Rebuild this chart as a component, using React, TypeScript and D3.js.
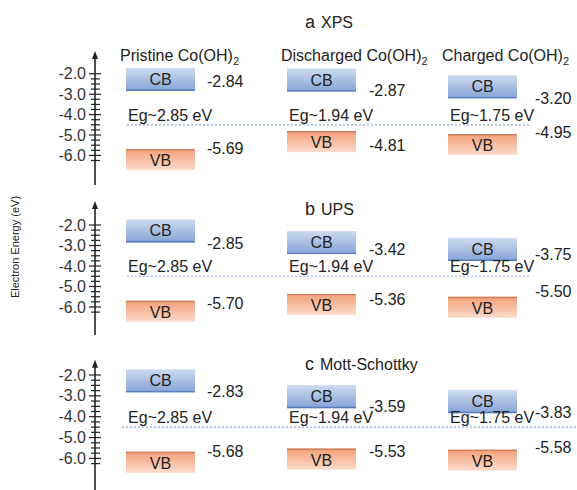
import React from 'react';
import * as d3 from 'd3';

// band edges (eV) for pristine / discharged / charged Co(OH)2
const samples = ['Pristine', 'Discharged', 'Charged'];
const methods = ['XPS', 'UPS', 'Mott-Schottky'];
const panelLetters = ['a', 'b', 'c'];
const cbXPS = [-2.84, -2.87, -3.2];
const vbXPS = [-5.69, -4.81, -4.95];
const cbUPS = [-2.85, -3.42, -3.75];
const vbUPS = [-5.7, -5.36, -5.5];
const cbMS = [-2.83, -3.59, -3.83];
const vbMS = [-5.68, -5.53, -5.58];
const bandGaps = [2.85, 1.94, 1.75];
const tickValues = [-2.0, -3.0, -4.0, -5.0, -6.0];
const refLevel = -4.5;

const panels = [
  { cb: cbXPS, vb: vbXPS },
  { cb: cbUPS, vb: vbUPS },
  { cb: cbMS, vb: vbMS },
];

// layout per panel (pixel range of -2..-6 eV, axis extent, dotted line extent)
const panelRange = [[73.8, 155.4], [225, 307], [375, 458.4]];
const axisTop = [-0.98, -0.93, -1.37];
const axisBottom = [-7.45, -7.37, -7.6];
const refX = [[127, 530], [127, 530], [122, 577]];
const titleY = [28, 215, 370];
// hand nudges for the value labels, as in the figure
const cbNudge = [[-9, -1.5, 0.7], [1, -5, -6], [-1, -2, -1]];
const vbNudge = [[-1, 14, -1], [2.6, 6, -5], [0, 3, -2]];
const labelDx = [12, 13, 18];

const FONT = '"Liberation Sans", Arial, sans-serif';
const AXIS_X = 95;
const BOX_W = 69;
const CB_H = 23;
const VB_H = 21;

const App = () => {
  const width = 577;
  const height = 490;

  const xCol = d3.scalePoint<string>().domain(samples).range([126, 448]);
  const minorTicks = d3.range(-2, -6.26, -0.25);

  return (
    <svg
      width={width}
      height={height}
      style={{ position: 'absolute', left: 0, top: 0, background: '#fff' }}
      fontFamily={FONT}
    >
      <defs>
        <linearGradient id="cbGrad" x1="0" y1="0" x2="0" y2="1">
          <stop offset="0%" stopColor="#cddbf0" />
          <stop offset="100%" stopColor="#84a3d6" />
        </linearGradient>
        <linearGradient id="vbGrad" x1="0" y1="0" x2="0" y2="1">
          <stop offset="0%" stopColor="#f29f78" />
          <stop offset="100%" stopColor="#fcdccb" />
        </linearGradient>
      </defs>

      <text
        transform="translate(16,247) rotate(-90)"
        textAnchor="middle"
        dominantBaseline="middle"
        fontSize={11}
        fill="#222"
      >
        Electron Energy (eV)
      </text>

      {panels.map((p, pi) => {
        const y = d3.scaleLinear().domain([-2, -6]).range(panelRange[pi]);
        const yTop = y(axisTop[pi]);
        const yBot = y(axisBottom[pi]);
        const yRef = y(refLevel);
        return (
          <g key={pi}>
            {/* title */}
            <text x={305} y={titleY[pi]} fill="#222">
              <tspan fontSize={18}>{panelLetters[pi]}</tspan>
              <tspan fontSize={16} dx={6}>{methods[pi]}</tspan>
            </text>

            {/* axis */}
            <line x1={AXIS_X} x2={AXIS_X} y1={yTop + 4} y2={yBot} stroke="#222" strokeWidth={1.6} />
            <path
              d={`M${AXIS_X},${yTop - 2} L${AXIS_X - 3},${yTop + 6} L${AXIS_X + 3},${yTop + 6} Z`}
              fill="#222"
            />
            {minorTicks.map((t, i) => {
              const major = Math.abs(t - Math.round(t)) < 1e-6;
              return (
                <line
                  key={i}
                  x1={AXIS_X - (major ? 6 : 4)}
                  x2={AXIS_X + (major ? 6 : 5)}
                  y1={y(t)}
                  y2={y(t)}
                  stroke="#222"
                  strokeWidth={1.2}
                />
              );
            })}
            {tickValues.map((t) => (
              <text
                key={t}
                x={86}
                y={y(t)}
                textAnchor="end"
                dominantBaseline="central"
                fontSize={16}
                fill="#333"
              >
                {t.toFixed(1)}
              </text>
            ))}

            {/* reference level */}
            <line
              x1={refX[pi][0]}
              x2={refX[pi][1]}
              y1={yRef}
              y2={yRef}
              stroke="#8eaad6"
              strokeWidth={1.2}
              strokeDasharray="2,2"
            />

            {samples.map((s, si) => {
              const x0 = xCol(s) as number;
              const yc = y(p.cb[si]);
              const yv = y(p.vb[si]);
              return (
                <g key={s}>
                  {pi === 0 && (
                    <text x={x0 - 6} y={61} fontSize={16} fill="#222">
                      {s} Co(OH)
                      <tspan fontSize={11} dy={4}>2</tspan>
                    </text>
                  )}
                  {/* CB */}
                  <rect x={x0} y={yc - CB_H} width={BOX_W} height={CB_H} fill="url(#cbGrad)" />
                  <line x1={x0} x2={x0 + BOX_W} y1={yc - 0.7} y2={yc - 0.7} stroke="#5a7dbd" strokeWidth={1.4} />
                  <text
                    x={x0 + BOX_W / 2}
                    y={yc - CB_H / 2}
                    textAnchor="middle"
                    dominantBaseline="central"
                    fontSize={16}
                    fill="#222"
                  >
                    CB
                  </text>
                  <text
                    x={x0 + BOX_W + labelDx[si]}
                    y={yc + cbNudge[pi][si]}
                    dominantBaseline="central"
                    fontSize={16}
                    fill="#222"
                  >
                    {p.cb[si].toFixed(2)}
                  </text>

                  {/* VB */}
                  <rect x={x0} y={yv} width={BOX_W} height={VB_H} fill="url(#vbGrad)" />
                  <line x1={x0} x2={x0 + BOX_W} y1={yv + 0.7} y2={yv + 0.7} stroke="#c9805c" strokeWidth={1.4} />
                  <text
                    x={x0 + BOX_W / 2}
                    y={yv + VB_H / 2 + 1}
                    textAnchor="middle"
                    dominantBaseline="central"
                    fontSize={16}
                    fill="#222"
                  >
                    VB
                  </text>
                  <text
                    x={x0 + BOX_W + labelDx[si]}
                    y={yv + vbNudge[pi][si]}
                    dominantBaseline="central"
                    fontSize={16}
                    fill="#222"
                  >
                    {p.vb[si].toFixed(2)}
                  </text>

                  {/* band gap */}
                  <text x={x0 + 2} y={yRef - 4} fontSize={16} fill="#222">
                    Eg~{bandGaps[si].toFixed(2)} eV
                  </text>
                </g>
              );
            })}
          </g>
        );
      })}
    </svg>
  );
};

export default App;
